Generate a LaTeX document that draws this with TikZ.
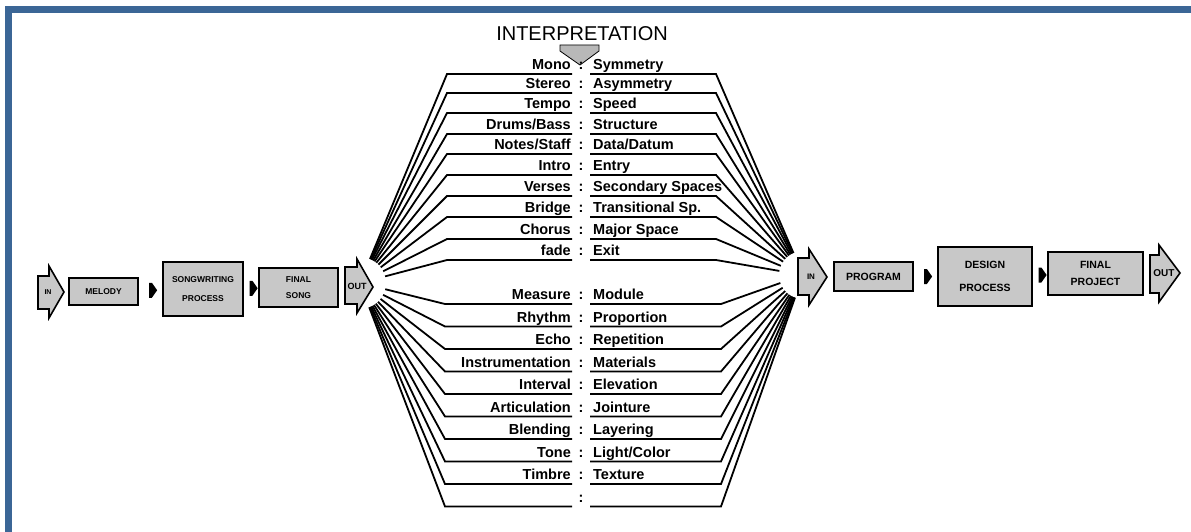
\documentclass[tikz,border=0pt]{standalone}
\usepackage{fontspec}
\setmainfont{Liberation Sans}
\usetikzlibrary{shapes.symbols}
\definecolor{framebl}{HTML}{3B6696}
\definecolor{boxgray}{HTML}{C8C8C8}
\definecolor{headgray}{HTML}{B8B8B8}
\tikzset{
  stage/.style={draw, line width=1.6pt, fill=boxgray, inner sep=0pt, align=center, font=\fontsize{8.5}{10}\selectfont\bfseries},
  bigstage/.style={stage, font=\fontsize{10.5}{12}\selectfont\bfseries},
  stepmark/.style={signal, signal to=east, signal pointer angle=110, fill=black, inner sep=0pt, minimum width=8pt, minimum height=15pt},
  blockarrow/.style={draw, line width=1.6pt, fill=boxgray, line join=miter},
  fan/.style={line width=1.8pt, line join=miter},
  rowtext/.style={inner sep=0pt, font=\fontsize{14.5}{16}\selectfont\bfseries},
  tag/.style={inner sep=0pt, font=\fontsize{7.5}{8}\selectfont\bfseries}
}
\begin{document}
\begin{tikzpicture}[x=1pt, y=-1pt]
  \useasboundingbox (0,0) rectangle (1191,532);
  \clip (0,0) rectangle (1191,532);
  \draw[framebl, line width=7.6pt] (8.3,9.5) rectangle (1205,536);

  \node[inner sep=0pt, font=\fontsize{20}{24}\selectfont, anchor=base] (title) at (582,41) {INTERPRETATION};
  \filldraw[fill=headgray, line width=0.8pt] (560,45) -- (599,45) -- (599,51) -- (580,65) -- (560,51) -- cycle;

  \coordinate (cL) at (360,283);
  \coordinate (cR) at (803,275);

  \foreach \y/\l/\r [count=\i] in {74/Mono/Symmetry, 93/Stereo/Asymmetry, 113/Tempo/Speed, 134/{Drums/Bass}/Structure, 154/{Notes/Staff}/{Data/Datum}, 175/Intro/Entry, 196/Verses/{Secondary Spaces}, 217/Bridge/{Transitional Sp.}, 239/Chorus/{Major Space}, 260/fade/Exit}{
    \draw[fan, shorten <=26pt] (cL) -- (447,\y) -- (572,\y);
    \draw[fan, shorten >=24pt] (590,\y) -- (716,\y) -- (cR);
    \node[rowtext, anchor=base east] (lt\i) at (571,\y-4.5) {\l};
    \node[rowtext, anchor=base] (ct\i) at (581,\y-4.5) {:};
    \node[rowtext, anchor=base west] (rt\i) at (593,\y-4.5) {\r};
  }
  \foreach \y/\l/\r [count=\i] in {304/Measure/Module, 326.5/Rhythm/Proportion, 349/Echo/Repetition, 371.5/Instrumentation/Materials, 394/Interval/Elevation, 416.5/Articulation/Jointure, 439/Blending/Layering, 461.5/Tone/{Light/Color}, 484/Timbre/Texture, 506.5/{}/{}}{
    \draw[fan, shorten <=26pt] (cL) -- (445,\y) -- (572,\y);
    \draw[fan, shorten >=24pt] (590,\y) -- (721,\y) -- (cR);
    \node[rowtext, anchor=base east] (lb\i) at (571,\y-4.5) {\l};
    \node[rowtext, anchor=base] (cb\i) at (581,\y-4.5) {:};
    \node[rowtext, anchor=base west] (rb\i) at (593,\y-4.5) {\r};
  }

  \draw[blockarrow] (38,276) -- (49,276) -- (49,266) -- (64,292) -- (49,318) -- (49,309) -- (38,309) -- cycle;
  \node[tag, font=\fontsize{7}{8}\selectfont\bfseries] (inL) at (48,292.5) {IN};
  \node[stage, minimum width=69pt, minimum height=27pt] (mel) at (103.5,291.5) {MELODY};
  \node[stage, minimum width=80pt, minimum height=54pt] (sw) at (203,289) {SONGWRITING\\[9pt]PROCESS};
  \node[stage, minimum width=79pt, minimum height=39pt] (fs) at (298.5,287.5) {FINAL\\[6pt]SONG};
  \path (mel.east) -- node[stepmark] (m1) {} (sw.west);
  \path (sw.east) -- node[stepmark] (m2) {} (fs.west);
  \draw[blockarrow] (345,267) -- (357,267) -- (357,259) -- (373,287) -- (357,313) -- (357,304) -- (345,304) -- cycle;
  \node[tag, font=\fontsize{9}{10}\selectfont\bfseries] (outL) at (357,286) {OUT};

  \draw[blockarrow] (798,258) -- (809,258) -- (809,249) -- (827,277) -- (809,305) -- (809,295) -- (798,295) -- cycle;
  \node[tag, font=\fontsize{8}{9}\selectfont\bfseries] (inR) at (811,277) {IN};
  \node[bigstage, minimum width=79pt, minimum height=29pt] (prog) at (873.5,276.5) {PROGRAM};
  \node[bigstage, minimum width=94pt, minimum height=59pt] (des) at (985,276.5) {DESIGN\\[11pt]PROCESS};
  \node[bigstage, minimum width=95pt, minimum height=43pt] (fp) at (1095.5,273.5) {FINAL\\[5pt]PROJECT};
  \path (prog.east) -- node[stepmark] (m3) {} (des.west);
  \path (des.east) -- node[stepmark] (m4) {} (fp.west);
  \draw[blockarrow] (1150,255) -- (1159,255) -- (1159,245) -- (1180,273) -- (1159,302) -- (1159,293) -- (1150,293) -- cycle;
  \node[tag, font=\fontsize{10}{11}\selectfont\bfseries] (outR) at (1164,273) {OUT};
\end{tikzpicture}
\end{document}
